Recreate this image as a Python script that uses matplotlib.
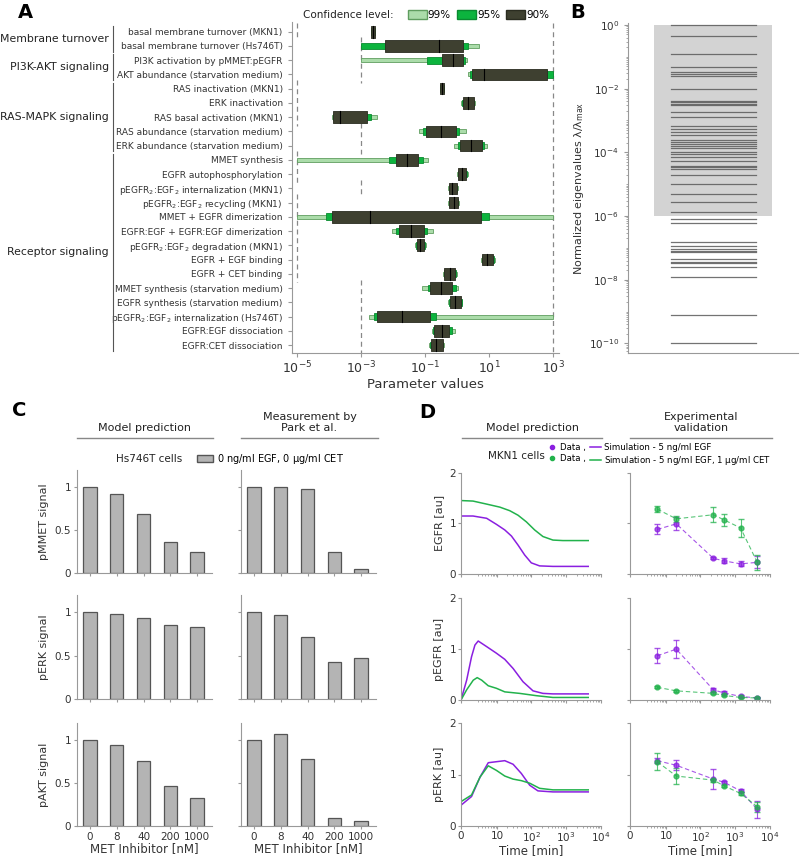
import numpy as np
import matplotlib.pyplot as plt
from matplotlib.transforms import blended_transform_factory
from matplotlib.patches import Patch
from matplotlib.lines import Line2D
from matplotlib.ticker import LogLocator, NullFormatter, FixedLocator

plt.rcParams['font.family'] = ['DejaVu Sans']
plt.rcParams['font.size'] = 7
plt.rcParams['axes.edgecolor'] = '#999999'
plt.rcParams['xtick.color'] = '#999999'
plt.rcParams['ytick.color'] = '#999999'
plt.rcParams['xtick.labelcolor'] = '#333333'
plt.rcParams['ytick.labelcolor'] = '#333333'
plt.rcParams['mathtext.default'] = 'regular'

# ---------------- panel A: parameter confidence intervals (log10 values) ----------------
param_names = [
    'basal membrane turnover (MKN1)', 'basal membrane turnover (Hs746T)',
    'PI3K activation by pMMET:pEGFR', 'AKT abundance (starvation medium)',
    'RAS inactivation (MKN1)', 'ERK inactivation', 'RAS basal activation (MKN1)',
    'RAS abundance (starvation medium)', 'ERK abundance (starvation medium)',
    'MMET synthesis', 'EGFR autophosphorylation',
    'pEGFR$_2$:EGF$_2$ internalization (MKN1)', 'pEGFR$_2$:EGF$_2$ recycling (MKN1)',
    'MMET + EGFR dimerization', 'EGFR:EGF + EGFR:EGF dimerization',
    'pEGFR$_2$:EGF$_2$ degradation (MKN1)', 'EGFR + EGF binding', 'EGFR + CET binding',
    'MMET synthesis (starvation medium)', 'EGFR synthesis (starvation medium)',
    'pEGFR$_2$:EGF$_2$ internalization (Hs746T)', 'EGFR:EGF dissociation',
    'EGFR:CET dissociation']
group_names = ['Membrane turnover', 'PI3K-AKT signaling', 'RAS-MAPK signaling', 'Receptor signaling']
group_first = [0, 2, 4, 9]
group_last = [1, 3, 8, 22]

best_log = [-2.64, -0.57, -0.13, 0.83, -0.48, 0.35, -3.66, -0.52, 0.43, -1.58, 0.14, -0.15,
            -0.11, -2.73, -1.46, -1.17, 0.94, -0.23, -0.52, -0.07, -1.74, -0.49, -0.67]
ci90_lo = [-2.70, -2.26, -0.49, 0.47, -0.53, 0.17, -3.88, -0.98, 0.08, -1.93, 0.03, -0.25,
           -0.25, -3.90, -1.82, -1.27, 0.78, -0.40, -0.85, -0.24, -2.50, -0.73, -0.83]
ci90_hi = [-2.57, 0.17, 0.19, 2.79, -0.43, 0.51, -2.83, -0.04, 0.76, -1.24, 0.27, -0.02,
           0.01, 0.73, -1.04, -1.03, 1.13, -0.06, -0.18, 0.12, -0.85, -0.25, -0.46]
ci95_lo = [-2.70, -3.00, -0.96, 0.40, -0.54, 0.15, -3.88, -1.08, 0.01, -2.13, 0.01, -0.27,
           -0.27, -4.10, -1.93, -1.29, 0.76, -0.42, -0.93, -0.26, -2.59, -0.75, -0.85]
ci95_hi = [-2.57, 0.32, 0.25, 2.98, -0.42, 0.52, -2.71, 0.06, 0.83, -1.08, 0.29, 0.00,
           0.03, 1.00, -0.94, -1.01, 1.15, -0.04, -0.05, 0.14, -0.65, -0.18, -0.44]
ci99_lo = [-2.71, -3.00, -3.00, 0.32, -0.55, 0.13, -3.92, -1.19, -0.10, -5.00, -0.02, -0.29,
           -0.29, -5.00, -2.03, -1.31, 0.74, -0.44, -1.09, -0.28, -2.75, -0.80, -0.87]
ci99_hi = [-2.56, 0.69, 0.31, 3.00, -0.41, 0.55, -2.50, 0.26, 0.92, -0.91, 0.32, 0.02,
           0.05, 3.00, -0.77, -0.99, 1.17, -0.02, 0.03, 0.16, 3.00, -0.07, -0.42]
lower_bound = [-5, -3, -3, -3, -5, -5, -5, -3, -3, -5, -5, -3, -5, -5, -5, -5, -5, -5,
               -3, -3, -3, -3, -3]
upper_bound = 3

# ---------------- panel B: normalized eigenvalues (log10) ----------------
eig_log = [0, -0.35, -0.92, -1.31, -1.49, -1.54, -1.62, -2.01, -2.38, -2.42, -2.47, -2.50,
           -2.75, -2.89, -3.16, -3.26, -3.36, -3.46, -3.61, -3.69, -3.75, -3.80, -3.88,
           -3.98, -4.06, -4.15, -4.28, -4.43, -4.47, -4.52, -4.71, -4.98, -5.32, -5.55,
           -5.87, -6.08, -6.23, -6.83, -6.94, -7.03, -7.10, -7.13, -7.36, -7.43, -7.49,
           -7.61, -7.91, -9.12, -10.0]

# ---------------- panel C: MET inhibitor ----------------
inhib_labels = ['0', '8', '40', '200', '1000']
pmmet_model = [1.0, 0.92, 0.69, 0.36, 0.24]
pmmet_meas = [1.0, 1.0, 0.98, 0.24, 0.05]
perk_model = [1.0, 0.98, 0.93, 0.85, 0.83]
perk_meas = [1.0, 0.97, 0.71, 0.43, 0.47]
pakt_model = [1.0, 0.94, 0.76, 0.46, 0.33]
pakt_meas = [1.0, 1.07, 0.78, 0.09, 0.06]

# ---------------- panel D: time courses ----------------
egfr_sim_t_egf = [0, 1.2, 4.4, 9.3, 16.8, 26.6, 41.7, 65, 101, 175, 422, 4320]
egfr_sim_egf = [1.145, 1.145, 1.10, 0.98, 0.87, 0.75, 0.57, 0.375, 0.22, 0.16, 0.15, 0.15]
egfr_sim_t_cet = [0, 1.2, 4.4, 11.9, 23.7, 41.7, 72.6, 126, 218, 422, 812, 4320]
egfr_sim_cet = [1.45, 1.44, 1.38, 1.32, 1.25, 1.16, 1.03, 0.87, 0.74, 0.67, 0.66, 0.66]

pegfr_sim_t_egf = [0, 0.45, 1.0, 1.5, 2.1, 4.4, 9.3, 16.8, 29.8, 58, 113, 218, 422, 4320]
pegfr_sim_egf = [0, 0.39, 0.85, 1.08, 1.16, 1.05, 0.92, 0.80, 0.62, 0.36, 0.18, 0.13, 0.12, 0.12]
pegfr_sim_t_cet = [0, 0.45, 1.24, 1.9, 2.9, 5, 9.3, 16.8, 46.6, 141, 422, 4320]
pegfr_sim_cet = [0, 0.20, 0.39, 0.44, 0.39, 0.28, 0.23, 0.16, 0.13, 0.085, 0.05, 0.05]

perk_sim_t_egf = [0, 1.0, 2.5, 5, 9.3, 16.8, 29.8, 52, 91, 157, 422, 4320]
perk_sim_egf = [0.40, 0.57, 0.95, 1.23, 1.25, 1.27, 1.20, 1.02, 0.79, 0.68, 0.66, 0.66]
perk_sim_t_cet = [0, 1.0, 2.5, 5, 9.3, 16.8, 29.8, 52, 91, 175, 422, 4320]
perk_sim_cet = [0.47, 0.60, 0.95, 1.17, 1.08, 0.97, 0.91, 0.88, 0.83, 0.73, 0.70, 0.70]

t_data = [5, 20, 240, 480, 1440, 4320]
egfr_egf = [0.88, 0.99, 0.31, 0.26, 0.20, 0.23]
egfr_egf_err = [0.10, 0.13, 0.02, 0.05, 0.05, 0.12]
egfr_cet = [1.28, 1.09, 1.17, 1.07, 0.91, 0.23]
egfr_cet_err = [0.06, 0.06, 0.15, 0.12, 0.18, 0.15]
pegfr_egf = [0.87, 1.00, 0.20, 0.14, 0.07, 0.04]
pegfr_egf_err = [0.15, 0.18, 0.04, 0.03, 0.02, 0.01]
pegfr_cet = [0.25, 0.18, 0.13, 0.09, 0.05, 0.04]
pegfr_cet_err = [0.02, 0.02, 0.02, 0.02, 0.01, 0.01]
perk_egf = [1.27, 1.18, 0.91, 0.85, 0.68, 0.32]
perk_egf_err = [0.05, 0.10, 0.20, 0.03, 0.03, 0.17]
perk_cet = [1.25, 0.97, 0.89, 0.78, 0.63, 0.37]
perk_cet_err = [0.17, 0.16, 0.03, 0.02, 0.03, 0.10]

c99, c99e = '#abdcaa', '#5f9d5f'
c95, c95e = '#0cb43e', '#0a8a30'
c90, c90e = '#3e4030', '#2a2c20'
purple = '#8a1fe0'
green = '#22b24c'

fig = plt.figure(figsize=(8, 8.58), dpi=100)
W, H = 800.0, 858.0


def fx(px):
    return px / W


def fy(py):
    return 1 - py / H


def clean(ax):
    for s in ['top', 'right']:
        ax.spines[s].set_visible(False)


# ================= Panel A =================
axA = fig.add_axes([fx(291.7), fy(353), (559 - 291.7) / W, (353 - 21.7) / H])
clean(axA)
n = len(param_names)
rows = np.arange(n)
for i in rows:
    axA.barh(i, 10**ci99_hi[i] - 10**ci99_lo[i], left=10**ci99_lo[i], height=0.28,
             color=c99, edgecolor=c99e, lw=0.6, zorder=3)
    axA.barh(i, 10**ci95_hi[i] - 10**ci95_lo[i], left=10**ci95_lo[i], height=0.47,
             color=c95, edgecolor=c95e, lw=0.6, zorder=4)
    axA.barh(i, 10**ci90_hi[i] - 10**ci90_lo[i], left=10**ci90_lo[i], height=0.82,
             color=c90, edgecolor=c90e, lw=0.6, zorder=5, joinstyle='round')
    axA.plot([10**best_log[i]] * 2, [i - 0.41, i + 0.41], color='black', lw=0.8, zorder=6)

# parameter bounds (dashed)
start = 0
for i in range(1, n + 1):
    if i == n or lower_bound[i] != lower_bound[start]:
        axA.plot([10.0**lower_bound[start]] * 2, [start - 0.6, i - 0.4],
                 ls=(0, (4, 3)), color='#888888', lw=0.9, zorder=1)
        start = i
axA.plot([10.0**upper_bound] * 2, [-0.6, n - 0.4], ls=(0, (4, 3)), color='#888888',
         lw=0.9, zorder=1)

axA.set_xscale('log')
axA.set_xlim(10**-5.175, 10**3.18)
axA.set_ylim(n - 1 + 0.56, -0.7)
axA.set_yticks(rows)
axA.set_yticklabels(param_names, fontsize=6.5)
axA.set_xticks([1e-5, 1e-3, 1e-1, 1e1, 1e3])
axA.xaxis.set_minor_locator(plt.NullLocator())
axA.tick_params(axis='x', labelsize=9, length=3, pad=2)
axA.tick_params(axis='y', length=3)
axA.set_xlabel('Parameter values', fontsize=9.5, color='#333333', labelpad=1)

trans = blended_transform_factory(fig.transFigure, axA.transData)
for name, a, b in zip(group_names, group_first, group_last):
    axA.add_artist(Line2D([fx(113)] * 2, [a - 0.4, b + 0.4], transform=trans,
                          color='#555555', lw=0.8, clip_on=False))
    axA.text(fx(109), (a + b) / 2, name, transform=trans, ha='right', va='center',
             fontsize=7.8, color='#222222', clip_on=False)

fig.text(fx(303), fy(15), 'Confidence level:', fontsize=7.5, color='#222222', va='center')
conf_handles = [Patch(facecolor=c99, edgecolor=c99e), Patch(facecolor=c95, edgecolor=c95e),
                Patch(facecolor=c90, edgecolor=c90e)]
fig.legend(conf_handles, ['99%', '95%', '90%'], loc='center left',
           bbox_to_anchor=(fx(408), fy(15)), ncol=3, frameon=False, fontsize=7.5,
           handlelength=1.8, handleheight=0.9, handletextpad=0.1, columnspacing=0.6,
           borderpad=0, borderaxespad=0)

# ================= Panel B =================
axB = fig.add_axes([fx(628), fy(353), (798 - 628) / W, (353 - 23.3) / H])
clean(axB)
axB.set_yscale('log')
axB.axhspan(1e-6, 1.0, xmin=0.153, xmax=0.847, color='#d3d3d3', lw=0, zorder=1)
for e in eig_log:
    axB.plot([0.25, 0.75], [10.0**e] * 2, color='#5a5a5a', lw=0.9, alpha=0.85, zorder=2)
axB.set_xlim(0, 1)
axB.set_ylim(10**-10.3, 10**0.05)
axB.set_xticks([])
axB.set_yticks([10.0**k for k in range(0, -11, -2)])
axB.yaxis.set_minor_locator(LogLocator(base=10, subs=np.arange(1, 10), numticks=100))
axB.yaxis.set_minor_formatter(NullFormatter())
axB.tick_params(axis='y', labelsize=7.5, length=3)
axB.tick_params(axis='y', which='minor', length=1.5)
axB.set_ylabel('Normalized eigenvalues $\\lambda/\\lambda_{max}$', fontsize=8,
               color='#333333', labelpad=2)

# ================= Panel C =================
c_left = [76.7, 240.7]
c_tops = [470, 595, 722.7]
c_bots = [573, 699, 826]
c_data = [[pmmet_model, pmmet_meas], [perk_model, perk_meas], [pakt_model, pakt_meas]]
c_ylabels = ['pMMET signal', 'pERK signal', 'pAKT signal']
xpos = np.arange(len(inhib_labels))
for r in range(3):
    for c in range(2):
        ax = fig.add_axes([fx(c_left[c]), fy(c_bots[r]), 135 / W, (c_bots[r] - c_tops[r]) / H])
        clean(ax)
        ax.bar(xpos, c_data[r][c], width=0.5, color='#b4b4b4', edgecolor='#555555', lw=0.9)
        ax.set_xlim(-0.5, 4.55)
        ax.set_ylim(0, 1.2)
        ax.set_xticks(xpos)
        ax.set_yticks([0, 0.5, 1])
        ax.tick_params(labelsize=7.5, length=2, pad=2)
        if c == 0:
            ax.set_yticklabels(['0', '0.5', '1'])
            ax.set_ylabel(c_ylabels[r], fontsize=8, color='#333333')
        else:
            ax.set_yticklabels([])
        if r == 2:
            ax.set_xticklabels(inhib_labels)
            ax.set_xlabel('MET Inhibitor [nM]', fontsize=8.5, color='#333333', labelpad=0)
        else:
            ax.set_xticklabels([])

# ================= Panel D =================
def fwd(t):
    return np.log10(1 + np.clip(t, -0.999, None))


def inv(u):
    return 10**u - 1


d_left = [461, 630]
d_tops = [472.7, 598.3, 723.3]
d_bots = [574, 700, 825.7]
d_sim = [[(egfr_sim_t_egf, egfr_sim_egf), (egfr_sim_t_cet, egfr_sim_cet)],
         [(pegfr_sim_t_egf, pegfr_sim_egf), (pegfr_sim_t_cet, pegfr_sim_cet)],
         [(perk_sim_t_egf, perk_sim_egf), (perk_sim_t_cet, perk_sim_cet)]]
d_dat = [[(egfr_egf, egfr_egf_err), (egfr_cet, egfr_cet_err)],
         [(pegfr_egf, pegfr_egf_err), (pegfr_cet, pegfr_cet_err)],
         [(perk_egf, perk_egf_err), (perk_cet, perk_cet_err)]]
d_ylabels = ['EGFR [au]', 'pEGFR [au]', 'pERK [au]']
minor_t = [k * 10.0**p for p in range(0, 4) for k in range(2, 10)]
for r in range(3):
    for c in range(2):
        ax = fig.add_axes([fx(d_left[c]), fy(d_bots[r]), 140 / W, (d_bots[r] - d_tops[r]) / H])
        clean(ax)
        ax.set_xscale('function', functions=(fwd, inv))
        if c == 0:
            for (ts, ys), col in zip(d_sim[r], [purple, green]):
                ax.plot(ts, ys, color=col, lw=1.1)
        else:
            for (ys, es), col in zip(d_dat[r], [purple, green]):
                ax.errorbar(t_data, ys, yerr=es, color=col, ls=(0, (4, 2.5)), lw=0.8,
                            marker='o', ms=3.5, capsize=2, elinewidth=0.8, alpha=0.75,
                            mec=col, mfc=col)
        ax.set_xlim(0, 1e4)
        ax.set_ylim(0, 2)
        ax.set_yticks([0, 1, 2])
        ax.xaxis.set_major_locator(FixedLocator([0, 10, 100, 1000, 10000]))
        ax.xaxis.set_minor_locator(FixedLocator(minor_t))
        ax.tick_params(labelsize=7.5, length=2, pad=1.5)
        ax.tick_params(which='minor', length=1.2)
        if c == 0:
            ax.set_ylabel(d_ylabels[r], fontsize=8, color='#333333')
        else:
            ax.set_yticklabels([])
        if r == 2:
            ax.set_xticklabels(['0', '10', '$10^2$', '$10^3$', '$10^4$'])
            ax.set_xlabel('Time [min]', fontsize=8.5, color='#333333', labelpad=0)
        else:
            ax.set_xticklabels([])

# ---- column headers ----
headers = [(145, 'Model prediction', 77, 213), (309.5, 'Measurement by\nPark et al.', 241, 378),
           (532, 'Model prediction', 462, 602), (701, 'Experimental\nvalidation', 630, 772)]
for xc, txt, x0, x1 in headers:
    fig.text(fx(xc), fy(433), txt, ha='center', va='bottom', fontsize=8, color='#222222',
             linespacing=1.1)
    fig.add_artist(Line2D([fx(x0), fx(x1)], [fy(437.5)] * 2, transform=fig.transFigure,
                          color='#888888', lw=1.0))

# ---- legends C / D ----
fig.text(fx(149.5), fy(459), 'Hs746T cells', ha='center', va='center', fontsize=7.5,
         color='#222222')
fig.legend([Patch(facecolor='#b4b4b4', edgecolor='#555555')],
           ['0 ng/ml EGF, 0 $\\mu$g/ml CET'], loc='center left',
           bbox_to_anchor=(fx(197), fy(459)), frameon=False, fontsize=7,
           handlelength=1.6, handletextpad=0.5, borderpad=0, borderaxespad=0)

fig.text(fx(516), fy(456), 'MKN1 cells', ha='center', va='center', fontsize=7.5,
         color='#222222')
d_handles = [Line2D([], [], color=purple, marker='o', ls='none', ms=3),
             Line2D([], [], color=green, marker='o', ls='none', ms=3),
             Line2D([], [], color=purple, lw=1.1),
             Line2D([], [], color=green, lw=1.1)]
fig.legend(d_handles, ['Data ,', 'Data ,', 'Simulation - 5 ng/ml EGF',
                       'Simulation - 5 ng/ml EGF, 1 $\\mu$g/ml CET'],
           loc='center left', bbox_to_anchor=(fx(546), fy(455)), ncol=2, frameon=False,
           fontsize=6.2, handlelength=1.3, handletextpad=0.3, columnspacing=0.5,
           labelspacing=0.2, borderpad=0, borderaxespad=0)

# ---- panel letters ----
for x, y, s in [(18, 13, 'A'), (570, 12, 'B'), (12, 411, 'C'), (419, 413, 'D')]:
    fig.text(fx(x), fy(y), s, fontsize=14, fontweight='bold', va='center', color='black')

fig.savefig('out.png', dpi=100)
